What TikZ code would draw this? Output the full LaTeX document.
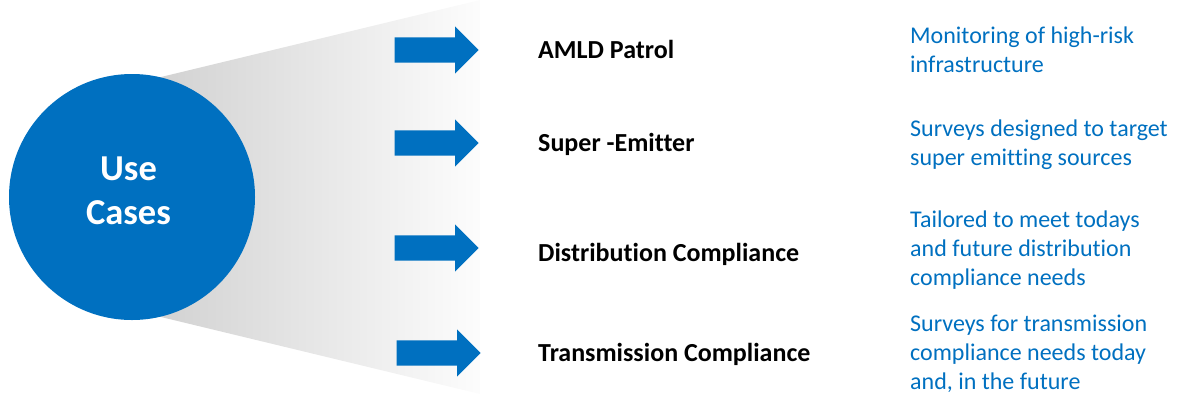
\documentclass[tikz,border=0pt]{standalone}
\usepackage{fontspec}
\setmainfont{Carlito}[Ligatures=NoCommon]
\usetikzlibrary{shapes.arrows, positioning}
\definecolor{casecolor}{RGB}{0,112,192}

\begin{document}
\begin{tikzpicture}[
    x=1pt, y=-1pt,
    hub/.style={circle, fill=casecolor, minimum size=246pt, inner sep=0pt},
    hubtext/.style={text=white, font=\fontsize{36.5}{44}\selectfont\bfseries, align=center},
    pointer/.style={single arrow, fill=casecolor, draw=none, inner xsep=0pt, inner ysep=12.5pt, minimum height=84pt, single arrow head extend=11pt, single arrow tip angle=90, anchor=east},
    usecase/.style={anchor=base west, inner sep=0pt, font=\fontsize{26}{31}\selectfont\bfseries},
    detail/.style={anchor=base west, inner sep=0pt, align=left, text=casecolor, font=\fontsize{24}{28.8}\selectfont}
]
    \useasboundingbox (0,0) rectangle (1180,394);

    % Funnel behind the hub
    \shade[left color=black!19, right color=black!1] (132,84) -- (480,0) -- (480,394) -- (132,310) -- cycle;

    % Hub
    \node[hub] (hub) at (132,197) {};
    \node[hubtext] (hubtxt) at ([xshift=-3.5pt, yshift=6pt]hub.center) {Use\\Cases};

    % Arrows
    \node[pointer] (arr1) at (479,50) {};
    \node[pointer] (arr2) at (479,143) {};
    \node[pointer] (arr3) at (479,248) {};
    \node[pointer] (arr4) at (481,353) {};

    % Use cases
    \node[usecase] (patrol) at (538,58.3) {AMLD Patrol};
    \node[usecase] (emitter) at (538,151.7) {Super -Emitter};
    \node[usecase] (distrib) at (538,261) {Distribution Compliance};
    \node[usecase] (trans) at (538,361.7) {Transmission Compliance};

    % Descriptions (base = last line)
    \node[detail] (patroltxt) at (910,72) {Monitoring of high-risk\\infrastructure};
    \node[detail] (emittertxt) at (910,165.5) {Surveys designed to target\\super emitting sources};
    \node[detail] (distribtxt) at (910,285) {Tailored to meet todays\\and future distribution\\compliance needs};
    \node[detail] (transtxt) at (910,389) {Surveys for transmission\\compliance needs today\\and, in the future};
\end{tikzpicture}
\end{document}
